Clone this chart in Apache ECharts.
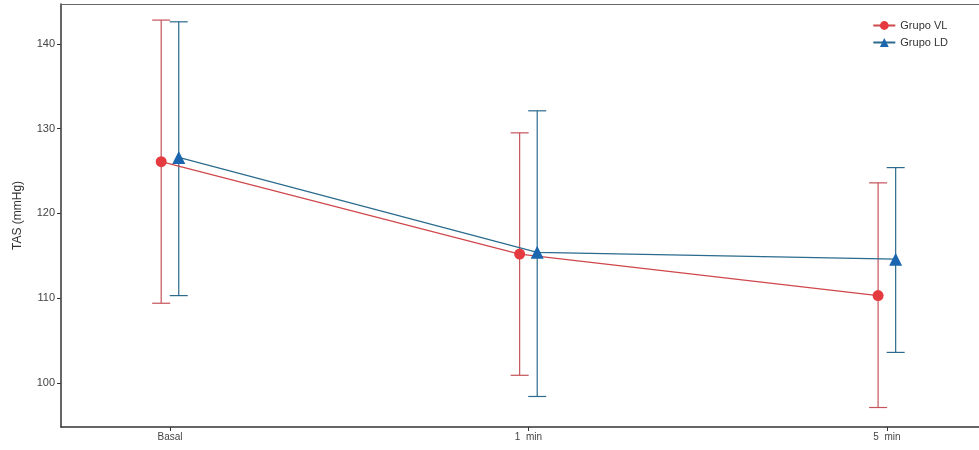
<!DOCTYPE html>
<html>
<head>
<meta charset="utf-8">
<script src="https://cdn.jsdelivr.net/npm/echarts@6/dist/echarts.min.js"></script>
<style>
html,body{margin:0;padding:0;background:#fff;}
#chart{width:979px;height:450px;}
</style>
</head>
<body>
<div id="chart"></div>
<script>
const categories = ['Basal', '1  min', '5  min'];
const yTicks = [100, 110, 120, 130, 140];
const seriesNames = ['Grupo VL', 'Grupo LD'];
const vlMean = [126.1, 115.2, 110.3];
const vlLow = [109.4, 100.9, 97.1];
const vlHigh = [142.8, 129.5, 123.6];
const ldMean = [126.6, 115.4, 114.6];
const ldLow = [110.3, 98.4, 103.6];
const ldHigh = [142.6, 132.1, 125.4];

const dodge = 0.0245;
const red = '#E53A3F', redBar = '#C5535A';
const blue = '#1B66AE', blueBar = '#2C6A8C';
const font = 'Liberation Sans, Arial, sans-serif';

function pts(means, off) { return means.map((m, i) => [i + 1 + off, m]); }
function bars(lo, hi, off) { return lo.map((l, i) => [i + 1 + off, l, hi[i]]); }

function errRender(color) {
  return function (params, api) {
    const x = api.value(0);
    const p1 = api.coord([x, api.value(1)]);
    const p2 = api.coord([x, api.value(2)]);
    const hw = 9;
    const style = { stroke: color, lineWidth: 1.2 };
    return {
      type: 'group',
      children: [
        { type: 'line', shape: { x1: p1[0], y1: p1[1], x2: p2[0], y2: p2[1] }, style },
        { type: 'line', shape: { x1: p1[0] - hw, y1: p1[1], x2: p1[0] + hw, y2: p1[1] }, style },
        { type: 'line', shape: { x1: p2[0] - hw, y1: p2[1], x2: p2[0] + hw, y2: p2[1] }, style }
      ]
    };
  };
}

const chart = echarts.init(document.getElementById('chart'));
chart.setOption({
  animation: false,
  backgroundColor: '#fff',
  grid: { left: 61, right: 0, top: 4, bottom: 23 },
  legend: {
    data: seriesNames,
    orient: 'vertical',
    right: 26,
    top: 15,
    itemWidth: 22,
    itemHeight: 11,
    itemGap: 6,
    textStyle: { fontFamily: font, fontSize: 11, color: '#333' }
  },
  xAxis: [{
    type: 'value',
    min: 0.696,
    max: 3.257,
    axisLine: { show: true, lineStyle: { color: '#333', width: 1.5 } },
    axisTick: { show: true, customValues: [1, 2, 3], length: 4, lineStyle: { color: '#333' } },
    axisLabel: {
      customValues: [1, 2, 3],
      formatter: v => categories[Math.round(v) - 1],
      fontFamily: font, fontSize: 10, color: '#444', margin: 5
    },
    splitLine: { show: false }
  }, {
    type: 'value',
    position: 'top',
    min: 0.696,
    max: 3.257,
    axisLine: { show: true, onZero: false, lineStyle: { color: '#666', width: 1.2 } },
    axisTick: { show: false },
    axisLabel: { show: false },
    splitLine: { show: false }
  }],
  yAxis: {
    type: 'value',
    min: 94.8,
    max: 144.7,
    name: 'TAS (mmHg)',
    nameLocation: 'middle',
    nameGap: 37,
    nameTextStyle: { fontFamily: font, fontSize: 12, color: '#333' },
    axisLine: { show: true, lineStyle: { color: '#333', width: 1.5 } },
    axisTick: { show: true, customValues: yTicks, length: 4, lineStyle: { color: '#333' } },
    axisLabel: { customValues: yTicks, fontFamily: font, fontSize: 11, color: '#444', margin: 6 },
    splitLine: { show: false }
  },
  series: [
    {
      type: 'custom', name: 'vlErr', renderItem: errRender(redBar),
      data: bars(vlLow, vlHigh, -dodge), encode: { x: 0, y: [1, 2] }, z: 1, silent: true
    },
    {
      type: 'custom', name: 'ldErr', renderItem: errRender(blueBar),
      data: bars(ldLow, ldHigh, dodge), encode: { x: 0, y: [1, 2] }, z: 1, silent: true
    },
    {
      type: 'line', name: seriesNames[0], data: pts(vlMean, -dodge),
      symbol: 'circle', symbolSize: 11,
      itemStyle: { color: red },
      lineStyle: { color: '#D0474C', width: 1.2 },
      z: 3
    },
    {
      type: 'line', name: seriesNames[1], data: pts(ldMean, dodge),
      symbol: 'triangle', symbolSize: 13,
      itemStyle: { color: blue },
      lineStyle: { color: '#2A6B8E', width: 1.2 },
      z: 3
    }
  ]
});
</script>
</body>
</html>
